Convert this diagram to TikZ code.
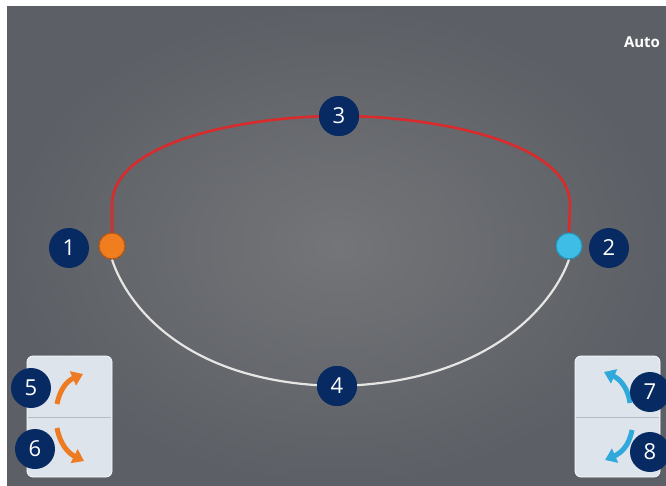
\documentclass[tikz,border=0pt]{standalone}
\usepackage{fontspec}
\setmainfont{Open Sans}
\usetikzlibrary{arrows.meta}
\definecolor{navy}{HTML}{072A63}
\definecolor{bgin}{HTML}{737578}
\definecolor{bgout}{HTML}{5C5F65}
\definecolor{redline}{HTML}{D92B2B}
\definecolor{whiteline}{HTML}{E6E6E4}
\definecolor{orangedot}{HTML}{F07E1E}
\definecolor{orangeedge}{HTML}{B0561A}
\definecolor{bluedot}{HTML}{3EBDE6}
\definecolor{blueedge}{HTML}{2A8DB0}
\definecolor{panel}{HTML}{DEE4EB}
\definecolor{panelline}{HTML}{B5BCC4}
\definecolor{arrorange}{HTML}{EE7A22}
\definecolor{arrblue}{HTML}{2FA9DC}
\tikzset{
  badge/.style={circle, fill=navy, minimum size=40pt, inner sep=0pt, text=white, font=\fontsize{22}{22}\selectfont},
  dotnode/.style={circle, minimum size=26pt, inner sep=0pt, line width=1pt},
  panelbox/.style={rounded corners=6pt, fill=panel, draw=white!85!panel, line width=0.8pt},
  iconarrow/.style={line width=5pt, -{Triangle[width=15pt,length=11pt]}},
}
\begin{document}
\begin{tikzpicture}[x=1pt,y=-1pt]
\useasboundingbox (0,0) rectangle (666,485);
\fill[white] (0,0) rectangle (666,485);
\shade[inner color=bgin, outer color=bgout] (7,6) rectangle (666,485);
% curves
\coordinate (r1) at (112,205);
\coordinate (r2) at (570,205);
\node[badge] (n3) at (339,116) {};
\node[badge] (n4) at (337,386) {};
\node[dotnode, fill=orangedot, draw=orangeedge] (o1) at (112,246) {};
\node[dotnode, fill=bluedot, draw=blueedge] (o2) at (569,246) {};
\draw[redline, line width=2.6pt] (o1.north) -- (r1) .. controls (112,140) and (250,116) .. (n3.center) .. controls (428,116) and (570,140) .. (r2) -- (o2.north);
\draw[whiteline, line width=2.2pt] (o1.south) .. controls (125,300) and (180,383) .. (n4.center) .. controls (494,383) and (555,300) .. (o2.south);
% redraw dots and badges on top
\node[dotnode, fill=orangedot, draw=orangeedge] at (o1) {};
\node[dotnode, fill=bluedot, draw=blueedge] at (o2) {};
\node[badge] at (n3) {3};
\node[badge] at (n4) {4};
\node[badge] (n1) at (69,248) {1};
\node[badge] (n2) at (609,248) {2};
% panels
\draw[panelbox] (27,356) rectangle (112,477);
\draw[panelline, line width=0.8pt] (28,417) -- (111,417);
\draw[panelbox] (575,356) rectangle (660,477);
\draw[panelline, line width=0.8pt] (576,417) -- (659,417);
% arrows
\coordinate (a5s) at (57,404);
\coordinate (a5e) at (83,374);
\coordinate (a6s) at (57,428);
\coordinate (a6e) at (84,461);
\coordinate (a7s) at (630,403);
\coordinate (a7e) at (604,372);
\coordinate (a8s) at (632,430);
\coordinate (a8e) at (605,460);
\draw[iconarrow, arrorange] (a5s) .. controls (60,389) and (67,381) .. (a5e);
\draw[iconarrow, arrorange] (a6s) .. controls (60,444) and (68,453) .. (a6e);
\draw[iconarrow, arrblue] (a7s) .. controls (628,388) and (620,379) .. (a7e);
\draw[iconarrow, arrblue] (a8s) .. controls (629,446) and (621,453) .. (a8e);
\node[badge] (n5) at (31,388) {5};
\node[badge] (n6) at (35,449) {6};
\node[badge] (n7) at (650,392) {7};
\node[badge] (n8) at (650,452) {8};
\node[text=white, font=\fontsize{15}{15}\selectfont\bfseries] (auto) at (642,42) {Auto};
\end{tikzpicture}
\end{document}
